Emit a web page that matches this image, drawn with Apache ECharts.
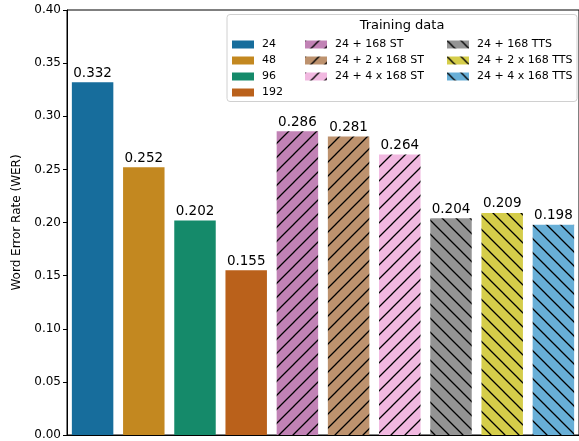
<!DOCTYPE html>
<html><head><meta charset="utf-8">
<script src="https://cdn.jsdelivr.net/npm/echarts@6/dist/echarts.min.js"></script>
<style>html,body{margin:0;padding:0;background:#fff;}#c{width:579px;height:441px;}</style>
</head><body><div id="c"></div>
<script>
const categories = ['24','48','96','192','24 + 168 ST','24 + 2 x 168 ST','24 + 4 x 168 ST','24 + 168 TTS','24 + 2 x 168 TTS','24 + 4 x 168 TTS'];
const werValues = [0.332,0.252,0.202,0.155,0.286,0.281,0.264,0.204,0.209,0.198];
const barColors = ['#176d9c','#c38820','#158a6a','#ba611b','#c182b5','#bd926e','#f1b8e0','#949494','#d5cd4a','#68afd7'];
const hatches = ['','','','','/','/','/','\\','\\','\\'];
const yTicks = [0,0.05,0.10,0.15,0.20,0.25,0.30,0.35,0.40];

function fillFor(color, hatch){
  if(!hatch) return color;
  const s = 14;
  const cv = document.createElement('canvas');
  cv.width = s; cv.height = s;
  const ctx = cv.getContext('2d');
  ctx.fillStyle = color; ctx.fillRect(0,0,s,s);
  ctx.strokeStyle = '#000'; ctx.lineWidth = 1.3;
  ctx.beginPath();
  if(hatch === '/'){
    ctx.moveTo(-2,s+2); ctx.lineTo(s+2,-2);
    ctx.moveTo(-2,2); ctx.lineTo(2,-2);
    ctx.moveTo(s-2,s+2); ctx.lineTo(s+2,s-2);
  } else {
    ctx.moveTo(-2,-2); ctx.lineTo(s+2,s+2);
    ctx.moveTo(s-2,-2); ctx.lineTo(s+2,2);
    ctx.moveTo(-2,s-2); ctx.lineTo(2,s+2);
  }
  ctx.stroke();
  return {image: cv, repeat: 'repeat'};
}

const series = categories.map((name, i) => ({
  name: name,
  type: 'bar',
  stack: 'all',
  barWidth: '81%',
  data: categories.map((c, j) => j === i ? werValues[i] : null),
  itemStyle: {color: fillFor(barColors[i], hatches[i])},
  label: {show: true, position: 'top', distance: 2, fontSize: 13.5, color: '#000',
          fontFamily: 'DejaVu Sans', formatter: p => p.value.toFixed(3)},
  emphasis: {disabled: true}
}));

const legendBase = {
  orient: 'vertical', padding: 0, itemWidth: 22, itemHeight: 8, itemGap: 5,
  icon: 'rect',
  textStyle: {fontSize: 11, fontFamily: 'DejaVu Sans', color: '#000', lineHeight: 11, padding: [0,0,0,3]},
  selectedMode: false
};

const chart = echarts.init(document.getElementById('c'), null, {renderer: 'canvas'});
chart.setOption({
  animation: false,
  grid: {left: 67, right: -4, top: 10, bottom: 5, show: true, borderColor: '#000', borderWidth: 1},
  xAxis: {type: 'category', data: categories, axisLabel: {show: false}, axisTick: {show: false},
          axisLine: {lineStyle: {color: '#000', width: 1}}},
  yAxis: {type: 'value', min: 0, max: 0.4, interval: 0.05,
          name: 'Word Error Rate (WER)', nameLocation: 'middle', nameGap: 44,
          nameTextStyle: {fontSize: 12, fontFamily: 'DejaVu Sans', color: '#000'},
          axisLine: {show: true, lineStyle: {color: '#000', width: 1}},
          axisTick: {show: true, length: 4, lineStyle: {color: '#000'}},
          splitLine: {show: false},
          axisLabel: {fontSize: 12, fontFamily: 'DejaVu Sans', color: '#000', margin: 6,
                      formatter: v => v.toFixed(2)}},
  legend: [
    Object.assign({}, legendBase, {left: 232, top: 39, data: categories.slice(0,4)}),
    Object.assign({}, legendBase, {left: 305, top: 39, data: categories.slice(4,7)}),
    Object.assign({}, legendBase, {left: 447, top: 39, data: categories.slice(7,10)})
  ],
  graphic: [
    {type: 'rect', z: -1, shape: {x: 227, y: 14.5, width: 350, height: 87, r: 3},
     style: {fill: 'rgba(255,255,255,0.8)', stroke: '#d0d0d0', lineWidth: 1}},
    {type: 'text', z: 10,
     style: {text: 'Training data', fontSize: 13, fontFamily: 'DejaVu Sans', fill: '#000',
             x: 402, y: 26, align: 'center', verticalAlign: 'middle'}}
  ],
  series: series
});
</script></body></html>
